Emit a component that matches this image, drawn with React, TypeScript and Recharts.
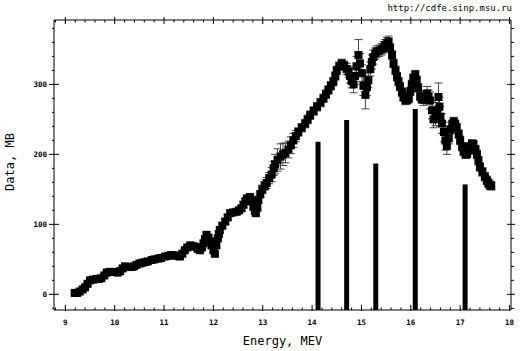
import React from 'react';
import { ScatterChart, Scatter, XAxis, YAxis, ZAxis, ErrorBar, ReferenceLine } from 'recharts';

// [energy MeV, cross section mb, error]
const measured: [number, number, number][] = [
  [9.19, 2, 2], [9.24, 2, 2], [9.29, 4, 2], [9.35, 7, 2], [9.40, 10, 2], [9.45, 15, 2],
  [9.50, 20, 2], [9.56, 21, 2], [9.63, 22, 2], [9.68, 22, 2], [9.73, 23, 2], [9.79, 27, 2],
  [9.84, 31, 2], [9.89, 32, 2], [9.95, 32, 2], [10.00, 32, 2], [10.06, 31, 2], [10.11, 33, 2],
  [10.16, 37, 2], [10.21, 40, 2], [10.27, 39, 2], [10.34, 39, 2], [10.39, 40, 2], [10.44, 42, 2],
  [10.50, 44, 2], [10.55, 45, 2], [10.61, 46, 2], [10.67, 47, 2], [10.75, 49, 2], [10.81, 50, 2],
  [10.88, 51, 2], [10.94, 52, 2], [11.02, 54, 2], [11.08, 55, 2], [11.14, 56, 2], [11.19, 56, 2],
  [11.25, 55, 2], [11.32, 54, 2], [11.37, 58, 2], [11.42, 63, 2], [11.47, 67, 2], [11.53, 70, 2],
  [11.58, 69, 2], [11.63, 68, 2], [11.68, 65, 2], [11.73, 63, 2], [11.77, 67, 3], [11.80, 73, 3],
  [11.83, 79, 4], [11.86, 85, 4], [11.90, 81, 4], [11.93, 76, 4], [11.96, 70, 4], [12.00, 63, 4],
  [12.03, 58, 4], [12.06, 70, 4], [12.09, 80, 4], [12.11, 86, 4], [12.13, 92, 4], [12.18, 98, 4],
  [12.24, 104, 4], [12.29, 110, 4], [12.34, 116, 4], [12.40, 117, 4], [12.47, 118, 4], [12.52, 120, 4],
  [12.57, 123, 4], [12.61, 128, 4], [12.65, 133, 4], [12.68, 137, 4], [12.74, 139, 4], [12.78, 133, 4],
  [12.81, 125, 4], [12.84, 119, 4], [12.86, 116, 4], [12.89, 124, 5], [12.91, 135, 5], [12.95, 143, 5],
  [12.99, 150, 6], [13.04, 155, 6], [13.08, 159, 8], [13.13, 166, 8], [13.18, 171, 10], [13.22, 180, 10],
  [13.25, 186, 14], [13.30, 192, 16], [13.36, 197, 18], [13.41, 200, 16], [13.46, 202, 14], [13.52, 207, 12],
  [13.57, 213, 12], [13.62, 220, 10], [13.67, 226, 8], [13.72, 232, 6], [13.79, 238, 6], [13.86, 244, 6],
  [13.91, 250, 6], [13.96, 256, 6], [14.03, 262, 6], [14.10, 268, 6], [14.17, 274, 6], [14.23, 280, 6],
  [14.28, 286, 6], [14.33, 292, 6], [14.38, 298, 6], [14.43, 304, 6], [14.47, 312, 6], [14.50, 320, 6],
  [14.55, 326, 6], [14.60, 330, 6], [14.65, 327, 6], [14.70, 322, 8], [14.74, 318, 8], [14.77, 312, 10],
  [14.80, 305, 10], [14.84, 300, 12], [14.87, 312, 12], [14.90, 326, 14], [14.94, 342, 22], [14.97, 330, 14],
  [15.01, 316, 12], [15.04, 298, 14], [15.08, 285, 20], [15.11, 296, 12], [15.14, 306, 10], [15.18, 322, 10],
  [15.21, 332, 10], [15.24, 339, 10], [15.28, 344, 8], [15.31, 347, 8], [15.36, 348, 8], [15.41, 350, 8],
  [15.45, 353, 8], [15.48, 356, 8], [15.52, 359, 8], [15.55, 361, 8], [15.58, 352, 6], [15.62, 342, 6],
  [15.65, 330, 6], [15.69, 320, 6], [15.72, 311, 6], [15.75, 304, 6], [15.78, 297, 6], [15.82, 289, 6],
  [15.85, 282, 6], [15.89, 277, 6], [15.93, 278, 6], [15.96, 280, 6], [15.99, 290, 6], [16.02, 300, 6],
  [16.05, 309, 6], [16.09, 314, 6], [16.12, 306, 6], [16.15, 295, 6], [16.19, 283, 6], [16.22, 279, 6],
  [16.26, 278, 8], [16.30, 283, 8], [16.33, 287, 10], [16.36, 282, 10], [16.39, 277, 12], [16.43, 263, 12],
  [16.46, 250, 12], [16.50, 255, 14], [16.53, 260, 14], [16.56, 282, 20], [16.58, 268, 14], [16.60, 254, 14],
  [16.63, 244, 14], [16.67, 232, 14], [16.70, 220, 14], [16.73, 212, 12], [16.77, 223, 8], [16.80, 235, 6],
  [16.84, 243, 6], [16.87, 247, 6], [16.90, 243, 6], [16.93, 238, 6], [16.97, 229, 6], [17.00, 220, 6],
  [17.04, 211, 6], [17.07, 204, 6], [17.11, 200, 6], [17.14, 201, 6], [17.17, 206, 6], [17.20, 211, 6],
  [17.24, 215, 6], [17.27, 214, 6], [17.31, 207, 6], [17.34, 200, 6], [17.37, 191, 6], [17.40, 182, 6],
  [17.45, 175, 6], [17.50, 168, 6], [17.54, 163, 6], [17.57, 159, 6], [17.60, 156, 6], [17.63, 155, 6],
];

// vertical markers
const spikeE = [14.12, 14.70, 15.29, 16.09, 17.10];
const spikeV = [218, 249, 187, 265, 157];

const xMajor = [9, 10, 11, 12, 13, 14, 15, 16, 17, 18];
const yMajor = [0, 100, 200, 300];
const xDomain: [number, number] = [8.77, 18.03];
const yDomain: [number, number] = [-22.4, 392];

const xTicks = Array.from({ length: 47 }, (_, i) => Math.round((8.8 + i * 0.2) * 10) / 10);
const yTicks = Array.from({ length: 21 }, (_, i) => -20 + i * 20);

const points = measured.map(([e, v, err]) => ({ e, v, err }));

const mono = '"DejaVu Sans Mono", monospace';
const isMajorX = (v: number) => xMajor.some(m => Math.abs(m - v) < 1e-6);
const isMajorY = (v: number) => yMajor.includes(v);

const BottomTick = (p: any) => {
  const major = isMajorX(p.payload.value);
  return (
    <g>
      <line x1={p.x} x2={p.x} y1={p.y + (major ? 1 : 0)} y2={p.y - (major ? 5 : 2.5)} stroke="#000" />
      {major && (
        <text x={p.x} y={p.y + 15} textAnchor="middle" fontFamily={mono} fontSize={7.5} fontWeight="bold" fill="#000">
          {p.payload.value}
        </text>
      )}
    </g>
  );
};

const TopTick = (p: any) => {
  const major = isMajorX(p.payload.value);
  return <line x1={p.x} x2={p.x} y1={p.y - (major ? 3 : 0)} y2={p.y + (major ? 4 : 2.5)} stroke="#000" />;
};

const LeftTick = (p: any) => {
  const major = isMajorY(p.payload.value);
  return (
    <g>
      <line x1={p.x - (major ? 5 : 2)} x2={p.x + (major ? 5 : 0)} y1={p.y} y2={p.y} stroke="#000" />
      {major && (
        <text x={p.x - 7} y={p.y + 3} textAnchor="end" fontFamily={mono} fontSize={7.5} fontWeight="bold" fill="#000">
          {p.payload.value}
        </text>
      )}
    </g>
  );
};

const RightTick = (p: any) => {
  const major = isMajorY(p.payload.value);
  return <line x1={p.x - (major ? 4 : 0)} x2={p.x + (major ? 4 : 3)} y1={p.y} y2={p.y} stroke="#000" />;
};

export default function App() {
  return (
    <div style={{ position: 'absolute', left: 0, top: 0, width: 525, height: 351, background: '#fff' }}>
      <ScatterChart width={525} height={351} margin={{ top: 0, right: 0, bottom: 0, left: 0 }}>
        <XAxis xAxisId="b" type="number" dataKey="e" domain={xDomain} ticks={xTicks} allowDataOverflow
          height={41} tickSize={0} tickMargin={0} tick={BottomTick} axisLine={{ stroke: '#000' }} interval={0} />
        <XAxis xAxisId="t" orientation="top" type="number" dataKey="e" domain={xDomain} ticks={xTicks} allowDataOverflow
          height={20} tickSize={0} tickMargin={0} tick={TopTick} axisLine={{ stroke: '#000' }} interval={0} />
        <YAxis yAxisId="l" type="number" dataKey="v" domain={yDomain} ticks={yTicks} allowDataOverflow
          width={54} tickSize={0} tickMargin={0} tick={LeftTick} axisLine={{ stroke: '#000' }} interval={0} />
        <YAxis yAxisId="r" orientation="right" type="number" dataKey="v" domain={yDomain} ticks={yTicks} allowDataOverflow
          width={14} tickSize={0} tickMargin={0} tick={RightTick} axisLine={{ stroke: '#000' }} interval={0} />
        <ZAxis range={[42, 42]} />
        {spikeE.map((e, i) => (
          <ReferenceLine key={e} xAxisId="b" yAxisId="l" ifOverflow="extendDomain"
            segment={[{ x: e, y: yDomain[0] }, { x: e, y: spikeV[i] }]} stroke="#000" strokeWidth={5} />
        ))}
        <Scatter xAxisId="b" yAxisId="l" data={points} shape="square" fill="#000" isAnimationActive={false}>
          <ErrorBar dataKey="err" direction="y" width={4} stroke="#444" strokeWidth={1} />
        </Scatter>
      </ScatterChart>
      <div style={{ position: 'absolute', right: 13, top: 3, fontFamily: mono, fontSize: 9, color: '#000' }}>
        http://cdfe.sinp.msu.ru
      </div>
      <div style={{ position: 'absolute', left: 282.5, top: 341, transform: 'translate(-50%, -50%)', fontFamily: mono, fontSize: 12, whiteSpace: 'nowrap' }}>
        Energy, MEV
      </div>
      <div style={{ position: 'absolute', left: 10, top: 162, transform: 'translate(-50%, -50%) rotate(-90deg)', fontFamily: mono, fontSize: 12, whiteSpace: 'nowrap' }}>
        Data, MB
      </div>
    </div>
  );
}
